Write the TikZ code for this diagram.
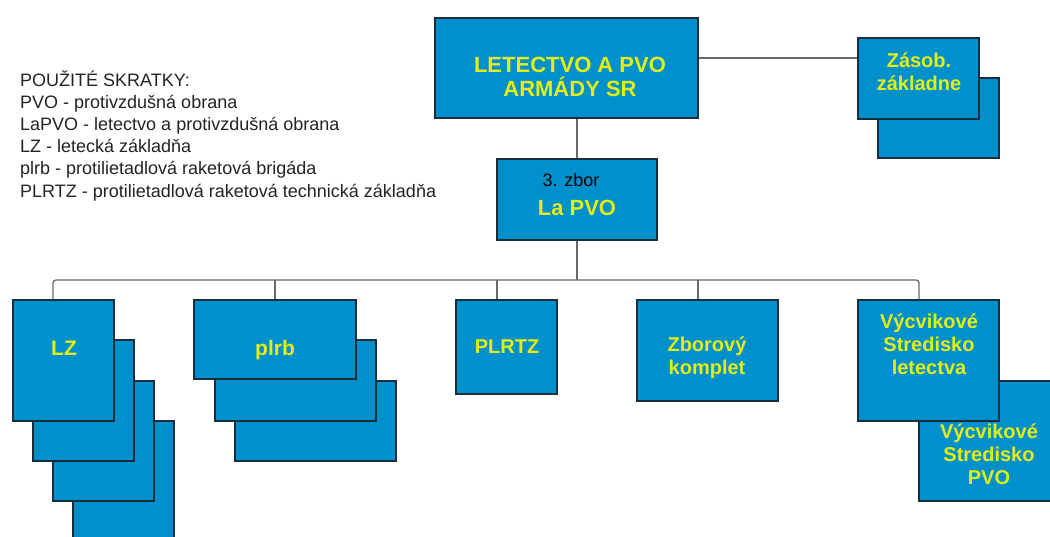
\documentclass[tikz,border=0pt]{standalone}
\usepackage{fontspec}
\setmainfont{Liberation Sans}
\definecolor{boxblue}{RGB}{0,144,204}
\definecolor{boxline}{RGB}{25,45,60}
\definecolor{ytext}{RGB}{228,238,20}
\definecolor{connc}{RGB}{105,105,105}
\definecolor{legtext}{RGB}{35,35,35}
\begin{document}
\begin{tikzpicture}[x=1pt,y=-1pt,
  box/.style n args={2}{draw=boxline, fill=boxblue, line width=1.3pt, inner sep=0pt,
      minimum width=#1, minimum height=#2},
  ytxt/.style={text=ytext, font=\bfseries\fontsize{20}{23}\selectfont, align=center, inner sep=0pt},
  legend/.style={text=legtext, font=\fontsize{18}{22}\selectfont, anchor=base west, inner sep=0pt},
  conn/.style={draw=connc, line width=1.3pt}]
\clip (0,0) rectangle (1050,536);

% legend
\node[legend] (leg0) at (20,86) {POUŽITÉ SKRATKY:};
\node[legend] (leg1) at (20,108.2) {PVO - protivzdušná obrana};
\node[legend] (leg2) at (20,130.4) {LaPVO - letectvo a protivzdušná obrana};
\node[legend] (leg3) at (20,152.6) {LZ - letecká základňa};
\node[legend] (leg4) at (20,174.8) {plrb - protilietadlová raketová brigáda};
\node[legend] (leg5) at (20,197) {PLRTZ - protilietadlová raketová technická základňa};

% top
\node[box={263pt}{100pt}] (top) at (566.5,68) {};
\node[ytxt, font=\bfseries\fontsize{22}{24}\selectfont] (toptxt) at (570,77) {LETECTVO A PVO\\ARMÁDY SR};

% Zasob. zakladne
\node[box={121pt}{80pt}] (zas2) at (938.5,118) {};
\node[box={121pt}{81pt}] (zas1) at (918.5,78.5) {};
\node[ytxt] (zastxt) at (919,72) {Zásob.\\základne};

% 3. zbor La PVO
\node[box={160pt}{81pt}] (lapvo) at (577,199.5) {};
\node[inner sep=0pt, font=\fontsize{18}{20}\selectfont, text=black] (zbortxt) at (571,180) {3. zbor};
\node[ytxt, font=\bfseries\fontsize{22}{24}\selectfont] (lapvotxt) at (577,208) {La PVO};

% LZ stack
\node[box={101pt}{120pt}] (lz4) at (123.5,481) {};
\node[box={101pt}{120pt}] (lz3) at (103.5,441) {};
\node[box={101pt}{121pt}] (lz2) at (83.5,400.5) {};
\node[box={101pt}{121pt}] (lz1) at (63.5,360.5) {};
\node[ytxt, font=\bfseries\fontsize{21}{23}\selectfont] (lztxt) at (64,348) {LZ};

% plrb stack
\node[box={161pt}{80pt}] (plrb3) at (315.5,421) {};
\node[box={161pt}{81pt}] (plrb2) at (295.5,380.5) {};
\node[box={162pt}{79pt}] (plrb1) at (275,339.5) {};
\node[ytxt, font=\bfseries\fontsize{21}{23}\selectfont] (plrbtxt) at (275,350) {plrb};

% PLRTZ
\node[box={101pt}{94pt}] (plrtz) at (506.5,347) {};
\node[ytxt] (plrtztxt) at (507,347) {PLRTZ};

% Zborovy komplet
\node[box={141pt}{101pt}] (zbor) at (707.5,350.5) {};
\node[ytxt] (zbortxt2) at (707,358) {Zborový\\komplet};

% Vycvikove strediska
\node[box={141pt}{120pt}] (vs2) at (989.5,441) {};
\node[box={141pt}{121pt}] (vs1) at (928.5,360.5) {};
\node[ytxt] (vs1txt) at (929,344.5) {Výcvikové\\Stredisko\\letectva};
\node[ytxt] (vs2txt) at (989,454.5) {Výcvikové\\Stredisko\\PVO};

% connectors
\coordinate (bus) at (577,280);
\draw[conn] (top.south -| lapvo.north) -- (lapvo.north);
\draw[conn] ([yshift=10pt]top.east) -- ([yshift=10pt]top.east -| zas1.west);
\draw[conn] (lapvo.south) -- (bus);
\draw[conn, rounded corners=3pt] ([xshift=-10.5pt]lz1.north) |- (bus) -| ([xshift=-9.5pt]vs1.north);
\draw[conn] (plrb1.north) -- (plrb1.north |- bus);
\draw[conn] ([xshift=-9.5pt]plrtz.north) -- ([xshift=-9.5pt]plrtz.north |- bus);
\draw[conn] ([xshift=-9.5pt]zbor.north) -- ([xshift=-9.5pt]zbor.north |- bus);
\end{tikzpicture}
\end{document}
